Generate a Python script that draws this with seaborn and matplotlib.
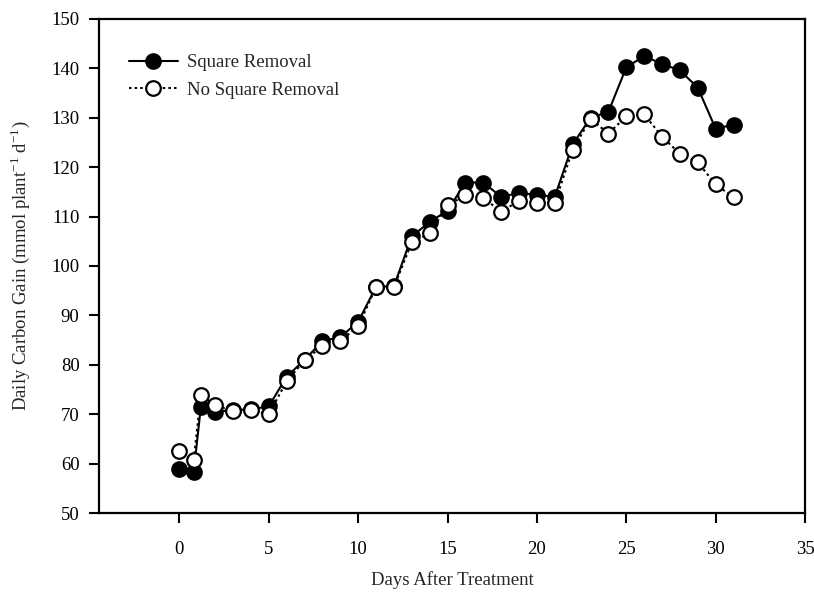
import matplotlib
matplotlib.use("Agg")
import matplotlib.pyplot as plt
import seaborn as sns
import pandas as pd

days = [0, 0.8, 1.2, 2, 3, 4, 5, 6, 7, 8, 9, 10, 11, 12, 13, 14, 15, 16, 17,
        18, 19, 20, 21, 22, 23, 24, 25, 26, 27, 28, 29, 30, 31]
square_removal = [59.0, 58.4, 71.5, 70.5, 70.8, 71.0, 71.6, 77.6, 81.0, 84.8,
                  85.6, 88.7, 95.8, 95.9, 106.0, 108.9, 111.2, 116.9, 116.9,
                  114.0, 114.8, 114.4, 114.0, 124.6, 130.0, 131.2, 140.2,
                  142.5, 140.9, 139.6, 136.1, 127.8, 128.6]
no_square_removal = [62.5, 60.8, 73.9, 71.8, 70.6, 70.8, 70.0, 76.7, 80.9,
                     83.8, 84.8, 87.8, 95.7, 95.7, 104.8, 106.6, 112.3, 114.3,
                     113.8, 111.0, 113.2, 112.8, 112.8, 123.5, 129.8, 126.8,
                     130.3, 130.7, 126.2, 122.7, 121.0, 116.5, 113.9]
series_names = ["Square Removal", "No Square Removal"]
x_ticks = [0, 5, 10, 15, 20, 25, 30, 35]
y_ticks = [50, 60, 70, 80, 90, 100, 110, 120, 130, 140, 150]

sns.set_style("ticks")
plt.rcParams["font.family"] = ["Liberation Serif", "DejaVu Serif"]
plt.rcParams["mathtext.fontset"] = "custom"
plt.rcParams["mathtext.rm"] = "Liberation Serif"

df1 = pd.DataFrame({"day": days, "gain": square_removal})
df2 = pd.DataFrame({"day": days, "gain": no_square_removal})

fig = plt.figure(figsize=(8.14, 5.93), dpi=100)
ax = fig.add_axes([99 / 814, 80 / 593, 706 / 814, 494 / 593])

sns.lineplot(data=df1, x="day", y="gain", ax=ax, color="black", lw=1.5,
             marker="o", markersize=10.5, markerfacecolor="black",
             markeredgecolor="black", markeredgewidth=1.5,
             label=series_names[0], zorder=3)
sns.lineplot(data=df2, x="day", y="gain", ax=ax, color="black", lw=1.5,
             linestyle=(0, (1.2, 1.5)), marker="o", markersize=10.5,
             markerfacecolor="white", markeredgecolor="black",
             markeredgewidth=1.6, label=series_names[1], zorder=4)

ax.set_xlim(-4.5, 35)
ax.set_ylim(50, 150)
ax.set_xticks(x_ticks)
ax.set_yticks(y_ticks)
ax.tick_params(direction="out", length=7, width=1.5, labelsize=13.5,
               colors="black")
ax.tick_params(axis="x", pad=13)
ax.tick_params(axis="y", pad=7)
for s in ax.spines.values():
    s.set_linewidth(1.6)
    s.set_color("black")

ax.set_xlabel("Days After Treatment", fontsize=13.5)
ax.xaxis.set_label_coords(0.5, -0.118)
ax.set_ylabel(r"Daily Carbon Gain (mmol plant$^{\mathregular{-1}}$ d$^{\mathregular{-1}}$)",
              fontsize=13.5, labelpad=14)

leg = ax.legend(loc="upper left", bbox_to_anchor=(0.032, 0.944), frameon=False,
                fontsize=13.5, handlelength=2.6, handletextpad=0.5,
                labelspacing=0.55, borderaxespad=0)

fig.savefig("out.png", dpi=100)
